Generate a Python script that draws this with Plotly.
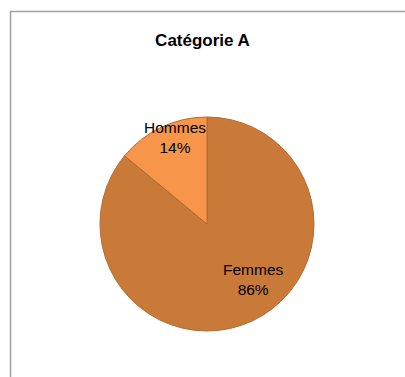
import plotly.graph_objects as go

# Data
categories = ["Femmes", "Hommes"]
values = [86, 14]
colors = ["#CA7A38", "#F7964A"]
title_text = "Catégorie A"

W, H = 405, 377

fig = go.Figure(go.Pie(
    labels=categories,
    values=values,
    sort=False,
    direction="clockwise",
    rotation=0,
    marker=dict(colors=colors, line=dict(color="#B36A2E", width=1)),
    textinfo="none",
    hoverinfo="label+percent",
    showlegend=False,
    domain=dict(x=[100 / W, 314 / W], y=[(H - 331) / H, (H - 117) / H]),
))

total = sum(values)
label_pos = {"Femmes": (253, 279), "Hommes": (175, 137)}
for cat, v in zip(categories, values):
    px, py = label_pos[cat]
    fig.add_annotation(
        x=px / W, y=1 - py / H, xref="paper", yref="paper",
        text=f"{cat}<br>{round(100 * v / total)}%",
        showarrow=False, xanchor="center", yanchor="middle",
        font=dict(family="Liberation Sans, Arial, sans-serif", size=15.5, color="#000000"),
        align="center",
    )

# chart-area border (extends beyond right/bottom of the view)
fig.add_shape(type="rect", xref="paper", yref="paper",
              x0=10.5 / W, x1=1.05, y0=-0.05, y1=1 - 11.5 / H,
              line=dict(color="#A0A0A0", width=1.5), fillcolor="rgba(0,0,0,0)")

fig.update_layout(
    width=W, height=H,
    margin=dict(l=0, r=0, t=0, b=0),
    paper_bgcolor="white", plot_bgcolor="white",
    title=dict(text=f"<b>{title_text}</b>", x=0.5, xanchor="center",
               y=1 - 40 / H, yanchor="middle",
               font=dict(family="Liberation Sans, Arial, sans-serif", size=17, color="#000000")),
)

fig.write_html("out.html")
